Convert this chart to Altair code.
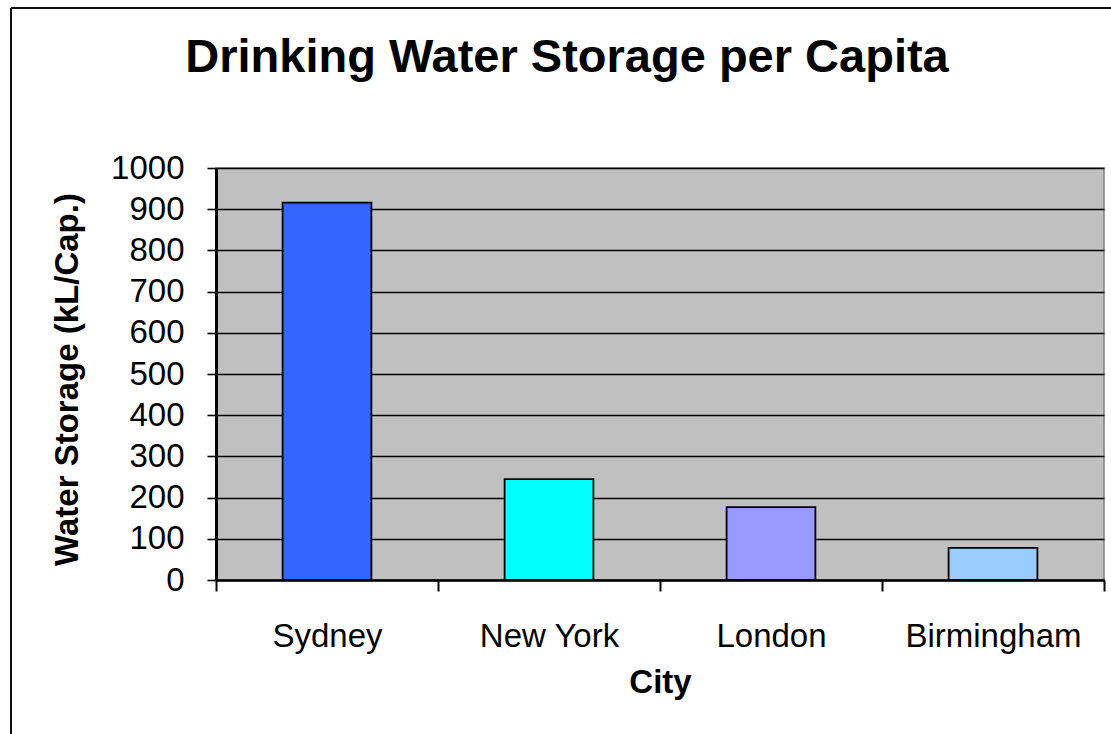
import altair as alt
import pandas as pd

# Drinking water storage per capita by city (kL per person)
cities = ["Sydney", "New York", "London", "Birmingham"]
storage = [916, 245, 177, 78]
bar_colors = ["#3366FF", "#00FFFF", "#9999FF", "#99CCFF"]
y_ticks = [0, 100, 200, 300, 400, 500, 600, 700, 800, 900, 1000]

df = pd.DataFrame({"City": cities, "Storage": storage})

FONT = "Liberation Sans, Arial, sans-serif"
PLOT_W, PLOT_H = 888, 412
PAD_L, PAD_T = 216, 168

bars = alt.Chart(df).mark_bar(
    stroke="black", strokeWidth=1.8, width=alt.RelativeBandSize(0.4)
).encode(
    x=alt.X(
        "City:N",
        sort=cities,
        scale=alt.Scale(paddingInner=0, paddingOuter=0),
        axis=alt.Axis(
            title="City",
            titleFont=FONT,
            titleFontSize=33,
            titleFontWeight="bold",
            titleColor="black",
            titleBaseline="alphabetic",
            titleY=112,
            labelFont=FONT,
            labelFontSize=33,
            labelColor="black",
            labelAngle=0,
            labelPadding=29,
            tickBand="extent",
            tickSize=11,
            tickWidth=2,
            tickColor="black",
            domainColor="black",
            domainWidth=2.5,
            grid=False,
        ),
    ),
    y=alt.Y(
        "Storage:Q",
        scale=alt.Scale(domain=[0, 1000], nice=False),
        axis=alt.Axis(
            title="Water Storage (kL/Cap.)",
            titleFont=FONT,
            titleFontSize=33,
            titleFontWeight="bold",
            titleColor="black",
            titleBaseline="alphabetic",
            titleX=-139,
            titleY=211,
            values=y_ticks,
            format="d",
            labelFont=FONT,
            labelFontSize=33,
            labelColor="black",
            labelPadding=23,
            tickSize=9,
            tickWidth=1.6,
            tickColor="black",
            domainColor="black",
            domainWidth=3,
            gridColor="black",
            gridWidth=1.6,
            gridOpacity=1,
        ),
    ),
    color=alt.Color(
        "City:N",
        sort=cities,
        scale=alt.Scale(domain=cities, range=bar_colors),
        legend=None,
    ),
)

# Outer chart frame (left and top edges)
frame_left = alt.Chart(df).mark_rule(color="#111111", strokeWidth=2).encode(
    x=alt.value(11 - PAD_L), y=alt.value(8 - PAD_T), y2=alt.value(760 - PAD_T)
)
frame_top = alt.Chart(df).mark_rule(color="#111111", strokeWidth=2).encode(
    x=alt.value(11 - PAD_L), x2=alt.value(1130 - PAD_L), y=alt.value(8 - PAD_T)
)

chart = (
    alt.layer(bars, frame_left, frame_top)
    .properties(
        width=PLOT_W,
        height=PLOT_H,
        title=alt.TitleParams(
            "Drinking Water Storage per Capita",
            font=FONT,
            fontSize=47,
            fontWeight="bold",
            color="black",
            anchor="middle",
            frame="group",
            baseline="alphabetic",
            dx=-93,
            offset=-112,
        ),
        autosize=alt.AutoSizeParams(type="none"),
        padding={"left": PAD_L, "top": PAD_T, "right": 7, "bottom": 154},
        background="white",
    )
    .configure_view(fill="#C0C0C0", stroke="#808080", strokeWidth=1.5)
)

chart.save("out.html", embed_options={"renderer": "svg", "actions": False})
